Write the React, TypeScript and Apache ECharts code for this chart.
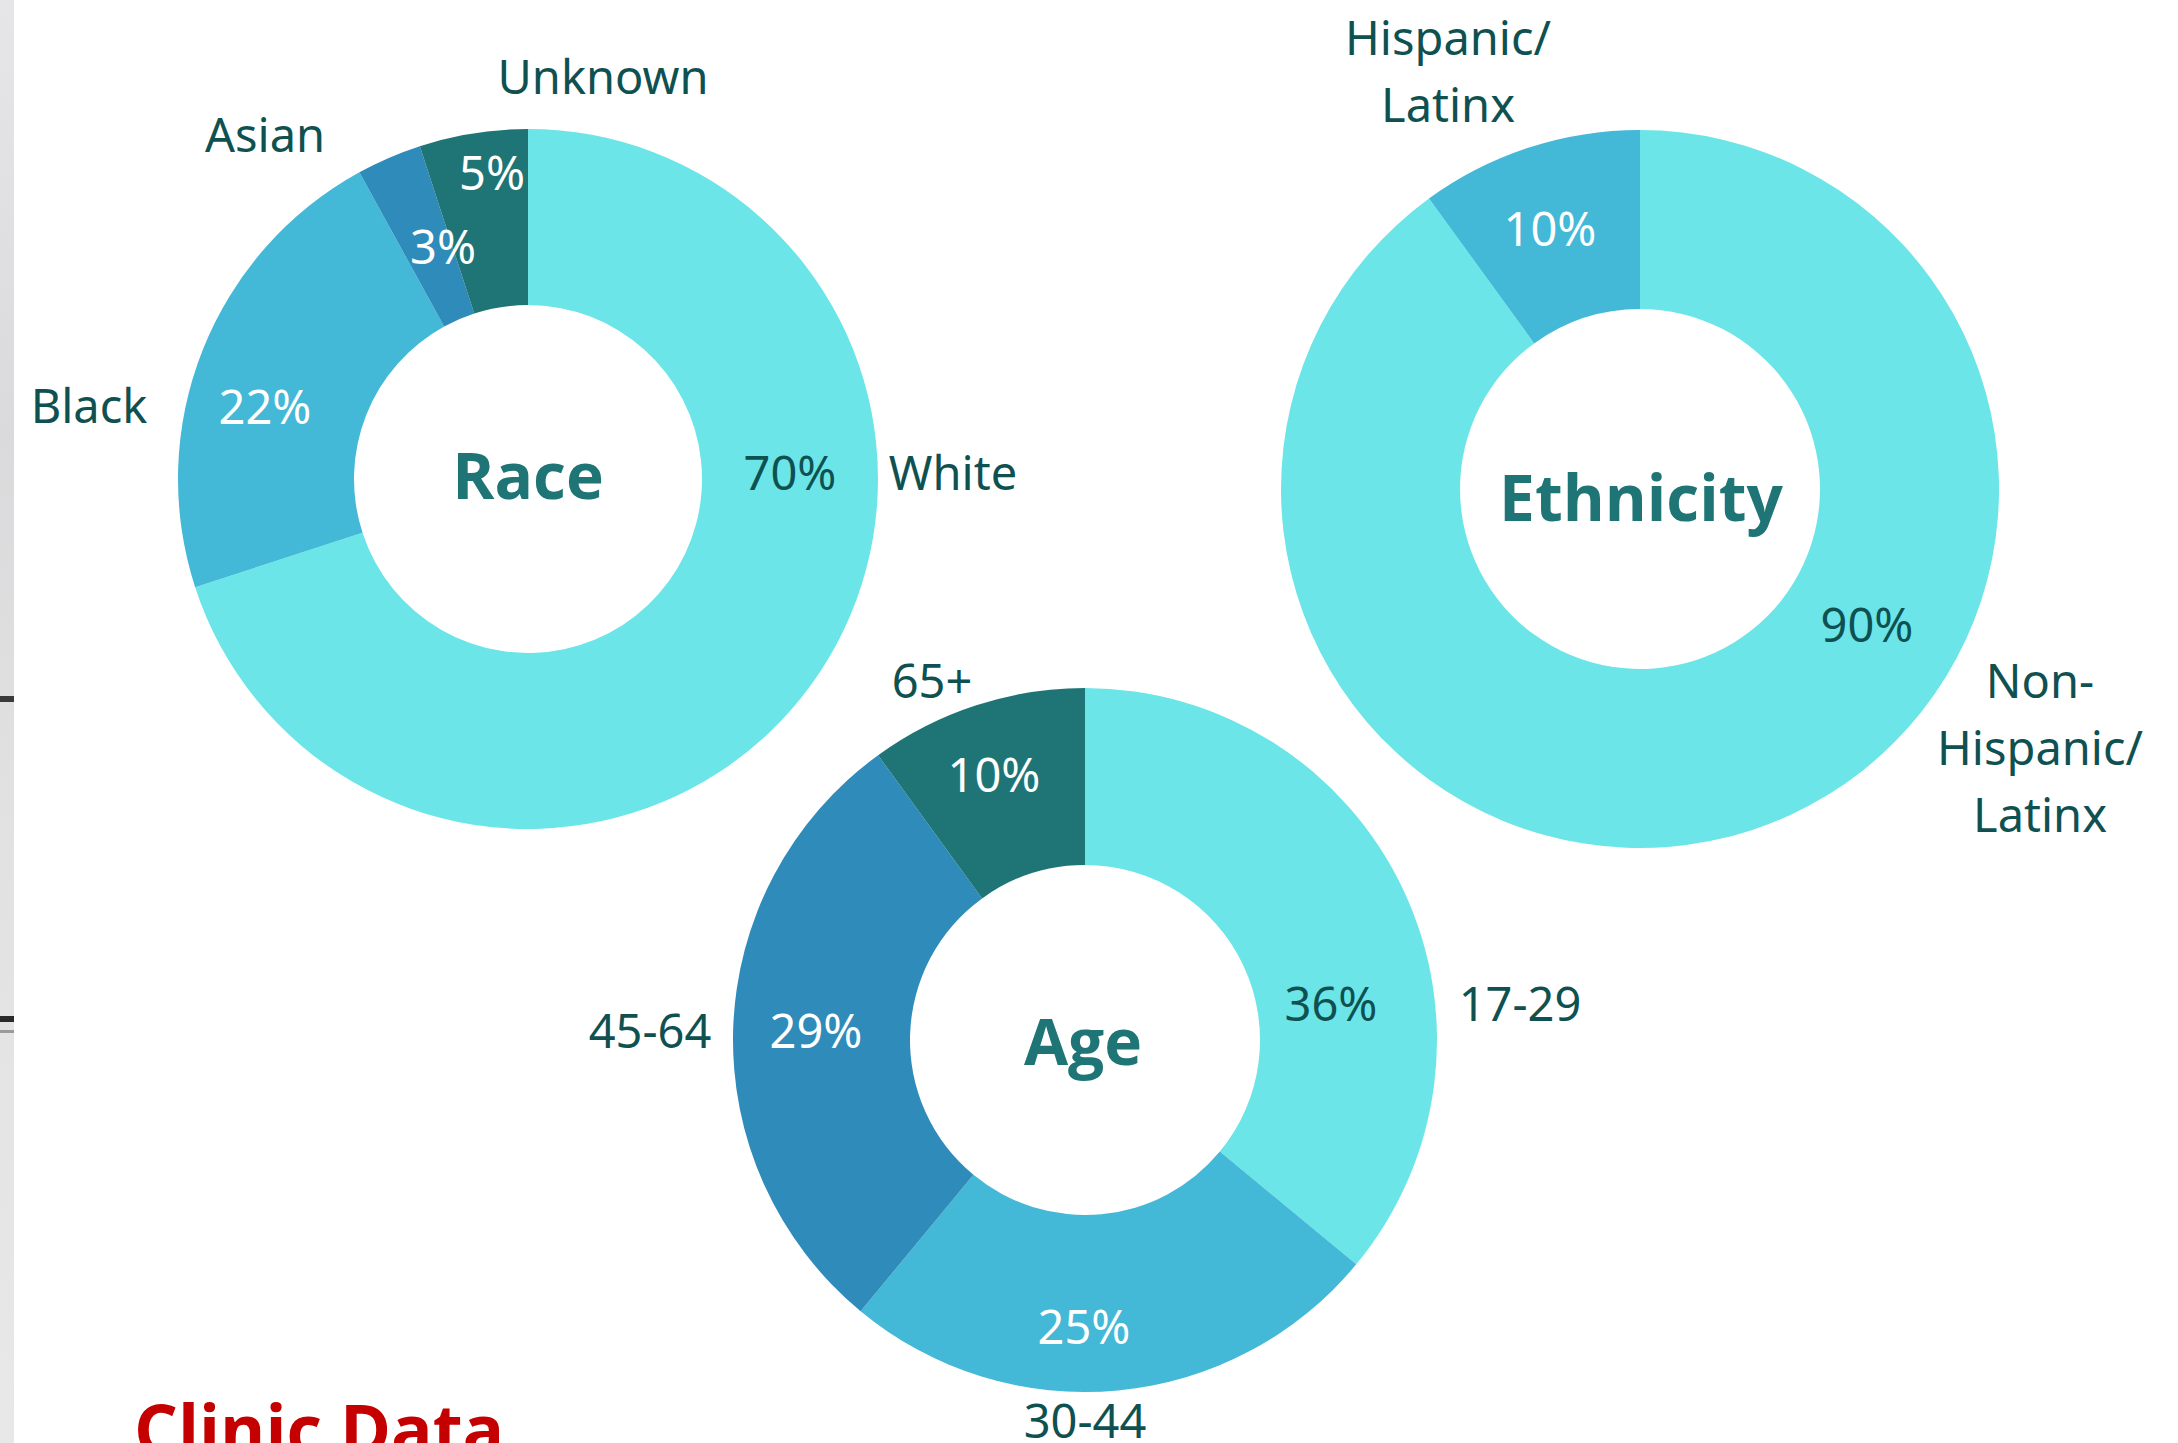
import React, { useEffect, useRef } from 'react';
import * as echarts from 'echarts';

// ---- data ----
const raceNames = ['White', 'Black', 'Asian', 'Unknown'];
const raceValues = [70, 22, 3, 5];

const ethnicityNames = ['Non-\nHispanic/\nLatinx', 'Hispanic/\nLatinx'];
const ethnicityValues = [90, 10];

const ageNames = ['17-29', '30-44', '45-64', '65+'];
const ageValues = [36, 25, 29, 10];

const chartTitles = ['Race', 'Ethnicity', 'Age'];
const footerTitle = 'Clinic Data';

// ---- styles ----
const CYAN = '#6BE5E8';
const MED = '#43B8D7';
const BLUE = '#2E8BBA';
const TEAL = '#1F7575';
const DARK = '#0F5151';
const LABEL_FONT = '"Noto Sans", "Open Sans", sans-serif';
const TITLE_FONT = '"Open Sans", "Noto Sans", sans-serif';

const donuts = [
  {
    title: chartTitles[0],
    names: raceNames,
    values: raceValues,
    colors: [CYAN, MED, BLUE, TEAL],
    center: [528, 479],
    radius: [174, 350],
    titlePos: [528, 474],
    pctPos: [[790, 472], [265, 406], [443, 246], [492, 172]],
    namePos: [[953, 472], [89, 405], [265, 134], [603, 76]],
  },
  {
    title: chartTitles[1],
    names: ethnicityNames,
    values: ethnicityValues,
    colors: [CYAN, MED],
    center: [1640, 489],
    radius: [180, 359],
    titlePos: [1641, 496],
    pctPos: [[1867, 624], [1550, 228]],
    namePos: [[2040, 747], [1448, 70]],
  },
  {
    title: chartTitles[2],
    names: ageNames,
    values: ageValues,
    colors: [CYAN, MED, BLUE, TEAL],
    center: [1085, 1040],
    radius: [175, 352],
    titlePos: [1083, 1040],
    pctPos: [[1331, 1003], [1084, 1326], [816, 1030], [994, 774]],
    namePos: [[1520, 1003], [1085, 1420], [650, 1030], [932, 680]],
  },
];

export default function App() {
  const ref = useRef<HTMLDivElement>(null);

  useEffect(() => {
    if (!ref.current) return;
    const chart = echarts.init(ref.current, undefined, { renderer: 'svg' });

    const series = donuts.map((d) => ({
      type: 'pie',
      center: d.center,
      radius: d.radius,
      startAngle: 90,
      clockwise: true,
      silent: true,
      avoidLabelOverlap: false,
      label: {
        show: true,
        position: 'inside',
        formatter: '{c}%',
        fontSize: 47,
        fontFamily: LABEL_FONT,
      },
      labelLine: { show: false },
      labelLayout: (params: any) => {
        const p = d.pctPos[params.dataIndex];
        return { x: p[0], y: p[1], align: 'center', verticalAlign: 'middle' };
      },
      data: d.values.map((v, i) => ({
        value: v,
        name: d.names[i],
        itemStyle: { color: d.colors[i] },
        label: { color: d.colors[i] === CYAN ? DARK : '#FFFFFF' },
      })),
    }));

    const graphics: any[] = [];
    // left photo strip
    graphics.push({
      type: 'rect',
      shape: { x: 0, y: 0, width: 14, height: 1443 },
      style: {
        fill: new echarts.graphic.LinearGradient(0, 0, 0, 1, [
          { offset: 0, color: '#E6E6E8' },
          { offset: 0.3, color: '#DADADC' },
          { offset: 0.6, color: '#E2E2E2' },
          { offset: 1, color: '#E8E8E8' },
        ]),
      },
      silent: true,
    });
    graphics.push({ type: 'rect', shape: { x: 0, y: 696, width: 14, height: 6 }, style: { fill: '#3A3A3A' }, silent: true });
    graphics.push({ type: 'rect', shape: { x: 0, y: 1016, width: 14, height: 6 }, style: { fill: '#2A2A2A' }, silent: true });
    graphics.push({ type: 'rect', shape: { x: 0, y: 1030, width: 14, height: 3 }, style: { fill: '#9A9A9A' }, silent: true });

    donuts.forEach((d) => {
      graphics.push({
        type: 'text',
        x: d.titlePos[0],
        y: d.titlePos[1],
        silent: true,
        style: {
          text: d.title,
          fill: TEAL,
          font: `bold 64px ${TITLE_FONT}`,
          textAlign: 'center',
          textVerticalAlign: 'middle',
        },
      });
      d.names.forEach((n, i) => {
        graphics.push({
          type: 'text',
          x: d.namePos[i][0],
          y: d.namePos[i][1],
          silent: true,
          style: {
            text: n,
            fill: DARK,
            font: `47px ${LABEL_FONT}`,
            lineHeight: 67,
            textAlign: 'center',
            textVerticalAlign: 'middle',
          },
        });
      });
    });

    graphics.push({
      type: 'text',
      x: 134,
      y: 1428,
      silent: true,
      style: {
        text: footerTitle,
        fill: '#C40000',
        font: `bold 69px ${TITLE_FONT}`,
        textAlign: 'left',
        textVerticalAlign: 'middle',
      },
    });

    chart.setOption({
      animation: false,
      backgroundColor: '#FFFFFF',
      series,
      graphic: graphics,
    });

    return () => chart.dispose();
  }, []);

  return (
    <div
      ref={ref}
      style={{ position: 'fixed', left: 0, top: 0, width: 2178, height: 1443, background: '#FFFFFF' }}
    />
  );
}
